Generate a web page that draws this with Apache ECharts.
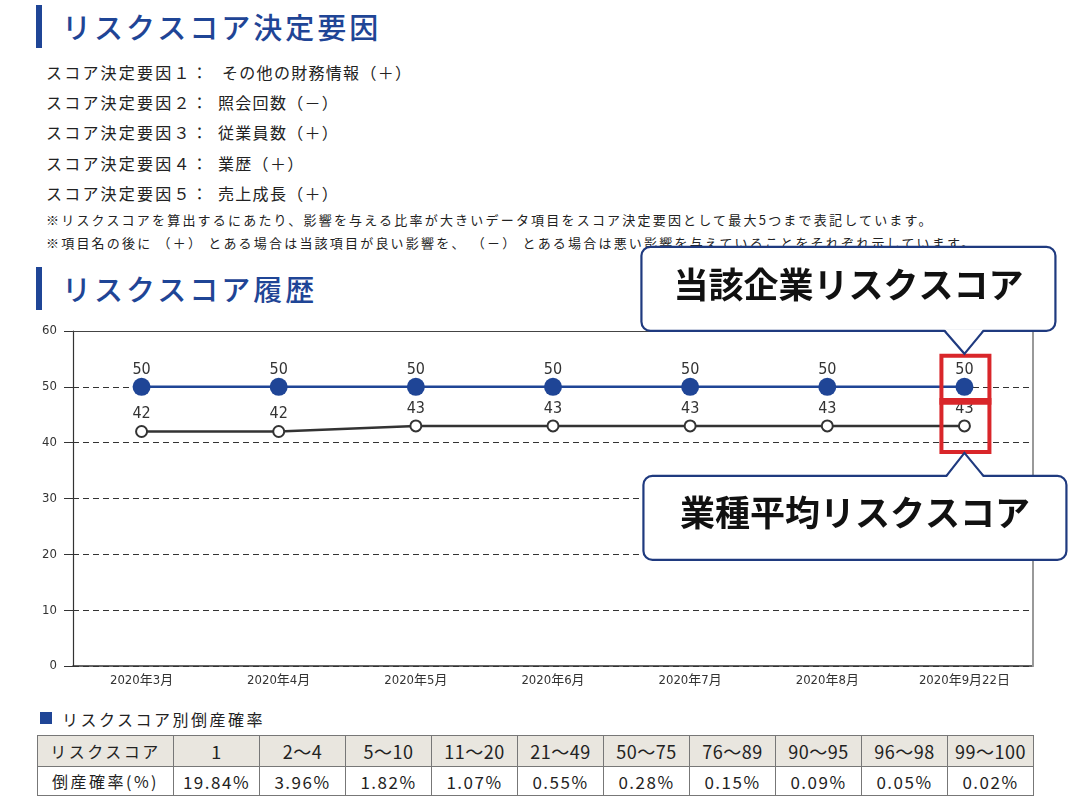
<!DOCTYPE html>
<html>
<head>
<meta charset="utf-8">
<script src="https://cdn.jsdelivr.net/npm/echarts@6/dist/echarts.min.js"></script>
<style>
  html, body { margin:0; padding:0; background:#fff; }
  body { width:1074px; height:806px; position:relative; overflow:hidden; font-family:'Noto Sans CJK JP', sans-serif; color:#222; }
  .abs { position:absolute; white-space:nowrap; }
  .bar { position:absolute; background:#1f4596; width:6px; height:43px; left:36px; }
  .title { position:absolute; left:62px; font-size:29px; line-height:40px; letter-spacing:3px; color:#1f4596; white-space:nowrap; font-weight:500; }
  .flabel { position:absolute; left:46px; font-size:16px; line-height:22px; letter-spacing:2.2px; color:#222; white-space:nowrap; }
  .fvalue { position:absolute; font-size:16px; line-height:22px; letter-spacing:1.3px; color:#222; white-space:nowrap; }
  .note { position:absolute; left:46px; font-size:13px; line-height:18px; letter-spacing:2.2px; color:#222; white-space:nowrap; }
  table { position:absolute; left:37px; top:735px; border-collapse:collapse; table-layout:fixed; }
  td { border:1.5px solid #777; text-align:center; padding:0; color:#222; white-space:nowrap; }
  tr.h td { background:#e9e6df; height:30px; font-family:'Liberation Sans Narrow','Noto Sans CJK JP',sans-serif; font-size:18px; letter-spacing:0.5px; }
  tr.d td { background:#fff; height:28px; font-family:'Liberation Sans Narrow','Noto Sans CJK JP',sans-serif; font-size:17px; letter-spacing:1.5px; }
  td.first { font-family:'Noto Sans CJK JP',sans-serif !important; font-size:16px !important; letter-spacing:2.5px !important; }
  #chart { position:absolute; left:0; top:0; width:1074px; height:806px; }
</style>
</head>
<body>
<div class="bar" style="top:5px"></div>
<div class="title" style="top:6px">リスクスコア決定要因</div>
<div id="factors"></div>
<div class="note" style="top:211px">※リスクスコアを算出するにあたり、影響を与える比率が大きいデータ項目をスコア決定要因として最大5つまで表記しています。</div>
<div class="note" style="top:234px">※項目名の後に （＋） とある場合は当該項目が良い影響を、 （－） とある場合は悪い影響を与えていることをそれぞれ示しています。</div>
<div class="bar" style="top:267px"></div>
<div class="title" style="top:268px">リスクスコア履歴</div>
<div class="abs" style="left:40px;top:712px;width:12px;height:12px;background:#1f4596"></div>
<div class="abs" style="left:62px;top:708px;font-size:16px;line-height:22px;letter-spacing:2.5px">リスクスコア別倒産確率</div>
<table id="tbl"></table>
<div id="chart"></div>
<script>
// ---- data ----
const factorLabels = ['スコア決定要因１：', 'スコア決定要因２：', 'スコア決定要因３：', 'スコア決定要因４：', 'スコア決定要因５：'];
const factorValues = ['その他の財務情報（＋）', '照会回数（－）', '従業員数（＋）', '業歴（＋）', '売上成長（＋）'];
const categories = ['2020年3月', '2020年4月', '2020年5月', '2020年6月', '2020年7月', '2020年8月', '2020年9月22日'];
const companyScores = [50, 50, 50, 50, 50, 50, 50];
const industryScores = [42, 42, 43, 43, 43, 43, 43];
const yMin = 0, yMax = 60, yInterval = 10;
const calloutCompany = '当該企業リスクスコア';
const calloutIndustry = '業種平均リスクスコア';
const tableHeaderLabel = 'リスクスコア';
const tableRateLabel = '倒産確率(%)';
const scoreRanges = ['1', '2～4', '5～10', '11～20', '21～49', '50～75', '76～89', '90～95', '96～98', '99～100'];
const bankruptcyRates = ['19.84%', '3.96%', '1.82%', '1.07%', '0.55%', '0.28%', '0.15%', '0.09%', '0.05%', '0.02%'];

// ---- factor text ----
const fTops = [61, 91, 121, 152, 182];
const fLeft = [222, 218, 218, 218, 218];
let fh = '';
factorLabels.forEach((l, i) => {
  fh += `<div class="flabel" style="top:${fTops[i]}px">${l}</div>`;
  fh += `<div class="fvalue" style="top:${fTops[i]}px;left:${fLeft[i]}px">${factorValues[i]}</div>`;
});
document.getElementById('factors').innerHTML = fh;

// ---- table ----
let th = '<colgroup><col style="width:136px">' + scoreRanges.map(() => '<col style="width:86px">').join('') + '</colgroup>';
th += '<tr class="h"><td class="first">' + tableHeaderLabel + '</td>' + scoreRanges.map(r => `<td>${r}</td>`).join('') + '</tr>';
th += '<tr class="d"><td class="first">' + tableRateLabel + '</td>' + bankruptcyRates.map(r => `<td>${r}</td>`).join('') + '</tr>';
document.getElementById('tbl').innerHTML = th;

// ---- chart ----
const numFont = "'Liberation Sans Narrow','DejaVu Sans Condensed','Noto Sans CJK JP',sans-serif";
const chart = echarts.init(document.getElementById('chart'), null, { renderer: 'canvas' });
chart.setOption({
  animation: false,
  grid: { left: 73, right: 41, top: 331, bottom: 140 },
  xAxis: [
    {
      type: 'category', data: categories, boundaryGap: true,
      axisLine: { onZero: false, lineStyle: { color: '#333', width: 1.5 } },
      axisTick: { show: false },
      axisLabel: { margin: 8, fontSize: 13, color: '#333', fontFamily: numFont }
    },
    {
      type: 'category', data: categories, position: 'top', boundaryGap: true, z: 10,
      axisLine: { onZero: false, lineStyle: { color: '#444', width: 1.2 } },
      axisTick: { show: false }, axisLabel: { show: false }
    }
  ],
  yAxis: [
    {
      type: 'value', min: yMin, max: yMax, interval: yInterval,
      axisLine: { show: true, onZero: false, lineStyle: { color: '#333', width: 1.2 } },
      axisTick: { show: true, length: 9, lineStyle: { color: '#333' } },
      axisLabel: { margin: 16, fontSize: 13, color: '#333', fontFamily: numFont },
      splitLine: { show: true, lineStyle: { color: '#333', type: [6, 4], width: 1 } }
    },
    {
      type: 'value', min: yMin, max: yMax, interval: yInterval, position: 'right', z: 10,
      axisLine: { show: true, onZero: false, lineStyle: { color: '#999', width: 2 } },
      axisTick: { show: false }, axisLabel: { show: false }, splitLine: { show: false }
    }
  ],
  series: [
    {
      name: calloutIndustry, type: 'line', data: industryScores,
      symbol: 'emptyCircle', symbolSize: 11,
      lineStyle: { color: '#333', width: 2.5 },
      itemStyle: { color: '#333', borderColor: '#333', borderWidth: 2 },
      label: { show: true, position: 'top', distance: 3, fontSize: 16, color: '#333', fontFamily: numFont },
      z: 3
    },
    {
      name: calloutCompany, type: 'line', data: companyScores,
      symbol: 'circle', symbolSize: 18,
      lineStyle: { color: '#1f4596', width: 2.5 },
      itemStyle: { color: '#1f4596' },
      label: { show: true, position: 'top', distance: 0, fontSize: 16, color: '#333', fontFamily: numFont },
      z: 4
    }
  ]
});

// ---- annotations anchored to the last data points ----
const last = categories.length - 1;
const p1 = chart.convertToPixel({ xAxisIndex: 0, yAxisIndex: 0 }, [last, companyScores[last]]);
const p2 = chart.convertToPixel({ xAxisIndex: 0, yAxisIndex: 0 }, [last, industryScores[last]]);

const boxStroke = '#1f3a7f';
const red = '#d9262a';

function callout(box, tx, ty, bx0, bx1, down, text, textDy) {
  const by = down ? box.y1 : box.y0;
  const inset = down ? -1.6 : 1.6;
  return [
    { type: 'rect', z: 100, shape: { x: box.x0, y: box.y0, width: box.x1 - box.x0, height: box.y1 - box.y0, r: 9 },
      style: { fill: '#fff', stroke: boxStroke, lineWidth: 2.2 } },
    { type: 'polygon', z: 101, shape: { points: [[bx0, by + inset], [tx, ty], [bx1, by + inset]] },
      style: { fill: '#fff', stroke: null } },
    { type: 'polyline', z: 102, shape: { points: [[bx0, by], [tx, ty], [bx1, by]] },
      style: { fill: null, stroke: boxStroke, lineWidth: 2.2 } },
    { type: 'text', z: 103, x: (box.x0 + box.x1) / 2, y: (box.y0 + box.y1) / 2 + textDy,
      style: { text: text, fontSize: 35, fontWeight: 'bold', fontFamily: 'Noto Sans CJK JP', fill: '#111', align: 'center', verticalAlign: 'middle' } }
  ];
}

const t1x = p1[0], t1y = p1[1] - 33;
const c1 = { x0: t1x - 323, y0: t1y - 107, x1: t1x + 91, y1: t1y - 23 };
const t2x = p2[0], t2y = p2[1] + 27;
const c2 = { x0: t2x - 321, y0: t2y + 23, x1: t2x + 102, y1: t2y + 107 };

chart.setOption({
  graphic: [
    { type: 'rect', z: 100, shape: { x: p1[0] - 23, y: p1[1] - 31, width: 48, height: 47 }, style: { fill: null, stroke: red, lineWidth: 4 } },
    { type: 'rect', z: 100, shape: { x: p2[0] - 23, y: p2[1] - 26, width: 48, height: 52 }, style: { fill: null, stroke: red, lineWidth: 4 } }
  ].concat(
    callout(c1, t1x, t1y, t1x - 20, t1x + 19, true, calloutCompany, -4),
    callout(c2, t2x, t2y, t2x - 18, t2x + 19, false, calloutIndustry, -5)
  )
});
</script>
</body>
</html>
